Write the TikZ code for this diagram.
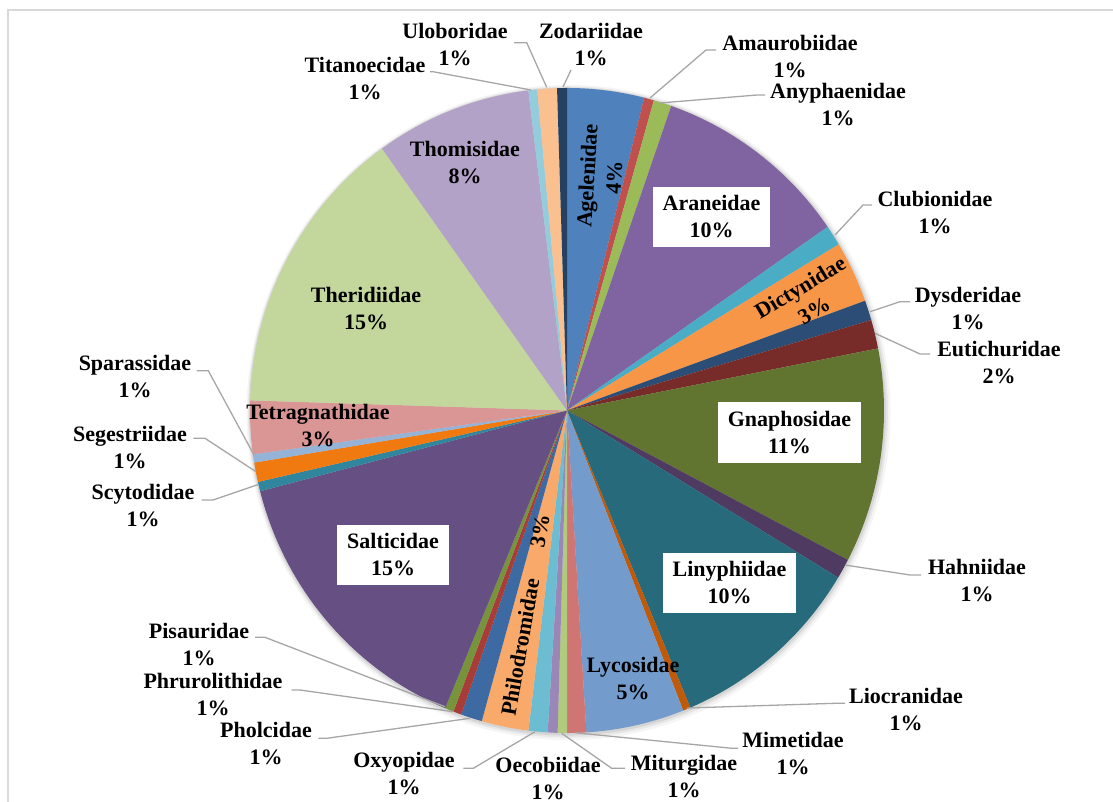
\documentclass[tikz,border=0pt]{standalone}
\usepackage{fontspec}
\setmainfont{Liberation Serif}
\definecolor{cAge}{HTML}{4F81BD}
\definecolor{cAma}{HTML}{C0504D}
\definecolor{cAny}{HTML}{9BBB59}
\definecolor{cAra}{HTML}{8064A2}
\definecolor{cClu}{HTML}{4BACC6}
\definecolor{cDic}{HTML}{F79646}
\definecolor{cDys}{HTML}{2C4D75}
\definecolor{cEut}{HTML}{772C2A}
\definecolor{cGna}{HTML}{627530}
\definecolor{cHah}{HTML}{4F3B62}
\definecolor{cLin}{HTML}{266A7B}
\definecolor{cLio}{HTML}{C05A0B}
\definecolor{cLyc}{HTML}{739CCD}
\definecolor{cMim}{HTML}{CF7573}
\definecolor{cMit}{HTML}{B0CB7C}
\definecolor{cOec}{HTML}{9B86B8}
\definecolor{cOxy}{HTML}{6DBDD2}
\definecolor{cPhi}{HTML}{F9AA6A}
\definecolor{cPho}{HTML}{3D6AA3}
\definecolor{cPhr}{HTML}{A83C38}
\definecolor{cPis}{HTML}{77933C}
\definecolor{cSal}{HTML}{654F83}
\definecolor{cScy}{HTML}{31859C}
\definecolor{cSeg}{HTML}{F07A10}
\definecolor{cSpa}{HTML}{95B3D7}
\definecolor{cTet}{HTML}{D99694}
\definecolor{cThe}{HTML}{C3D69B}
\definecolor{cTho}{HTML}{B3A2C7}
\definecolor{cTit}{HTML}{93CDDD}
\definecolor{cUlo}{HTML}{FAC090}
\definecolor{cZod}{HTML}{254061}
\definecolor{leadgray}{HTML}{A6A6A6}
\definecolor{framegray}{HTML}{D9D9D9}
\newcommand\pslice[3]{\fill[#3] (0,0) -- (#1-90:317) arc[start angle=#1-90, end angle=#2-90, radius=317] -- cycle;}
\begin{document}
\begin{tikzpicture}[x=1pt,y=-1pt,
  lbl/.style={font=\bfseries\fontsize{22}{27}\selectfont, align=center, inner sep=0pt},
  boxlbl/.style={lbl, fill=white, inner xsep=10pt, inner ysep=9pt},
  leader/.style={draw=leadgray, line width=1.3pt},
  frameline/.style={draw=framegray, line width=1.5pt}]
\useasboundingbox (0,0) rectangle (1113,802);
\draw[frameline] (8,802) -- (8,10) -- (1113,10);
% pie
\begin{scope}[shift={(567,410.5)}, yscale=1.0174]
  \fill[black, opacity=0.04] (1.5,2) circle[radius=322];
  \fill[black, opacity=0.06] (1,1.5) circle[radius=320];
  \fill[black, opacity=0.08] (0.5,1) circle[radius=318.5];
  \pslice{0}{14.1}{cAge}
  \pslice{14.1}{15.9}{cAma}
  \pslice{15.9}{19.2}{cAny}
  \pslice{19.2}{55.3}{cAra}
  \pslice{55.3}{59.0}{cClu}
  \pslice{59.0}{70.1}{cDic}
  \pslice{70.1}{73.7}{cDys}
  \pslice{73.7}{78.9}{cEut}
  \pslice{78.9}{117.6}{cGna}
  \pslice{117.6}{121.2}{cHah}
  \pslice{121.2}{157.1}{cLin}
  \pslice{157.1}{158.5}{cLio}
  \pslice{158.5}{176.5}{cLyc}
  \pslice{176.5}{180.0}{cMim}
  \pslice{180.0}{181.7}{cMit}
  \pslice{181.7}{183.5}{cOec}
  \pslice{183.5}{187.0}{cOxy}
  \pslice{187.0}{195.6}{cPhi}
  \pslice{195.6}{199.5}{cPho}
  \pslice{199.5}{201.0}{cPhr}
  \pslice{201.0}{202.6}{cPis}
  \pslice{202.6}{255.5}{cSal}
  \pslice{255.5}{257.2}{cScy}
  \pslice{257.2}{260.7}{cSeg}
  \pslice{260.7}{262.2}{cSpa}
  \pslice{262.2}{271.8}{cTet}
  \pslice{271.8}{324.3}{cThe}
  \pslice{324.3}{353.0}{cTho}
  \pslice{353.0}{354.6}{cTit}
  \pslice{354.6}{358.2}{cUlo}
  \pslice{358.2}{360}{cZod}
\end{scope}
% inside labels
\node[lbl, rotate=86.6] (l-age) at (600.5,176.5) {Agelenidae\\4\%};
\node[boxlbl] (l-ara) at (711.5,217) {Araneidae\\10\%};
\node[lbl, rotate=31] (l-dic) at (807,299) {Dictynidae\\3\%};
\node[boxlbl] (l-gna) at (789.5,432.5) {Gnaphosidae\\11\%};
\node[boxlbl] (l-lin) at (729.5,583) {Linyphiidae\\10\%};
\node[lbl] (l-lyc) at (633,679) {Lycosidae\\5\%};
\node[lbl, rotate=80] (l-phi) at (520,647) {Philodromidae};
\node[lbl, rotate=80] (l-phip) at (540,531) {3\%};
\node[boxlbl] (l-sal) at (393,555) {Salticidae\\15\%};
\node[lbl] (l-tet) at (318,425.5) {Tetragnathidae\\3\%};
\node[lbl] (l-the) at (366,308.5) {Theridiidae\\15\%};
\node[lbl] (l-tho) at (465,162.5) {Thomisidae\\8\%};
% outside labels
\node[lbl] (l-zod) at (591,44.5) {Zodariidae\\1\%};
\node[lbl] (l-ulo) at (455,45) {Uloboridae\\1\%};
\node[lbl] (l-tit) at (365,79) {Titanoecidae\\1\%};
\node[lbl] (l-ama) at (790,57) {Amaurobiidae\\1\%};
\node[lbl] (l-any) at (838,105) {Anyphaenidae\\1\%};
\node[lbl] (l-clu) at (935,212.5) {Clubionidae\\1\%};
\node[lbl] (l-dys) at (968,309) {Dysderidae\\1\%};
\node[lbl] (l-eut) at (999,362.5) {Eutichuridae\\2\%};
\node[lbl] (l-hah) at (977,580.5) {Hahniidae\\1\%};
\node[lbl] (l-lio) at (906,709.5) {Liocranidae\\1\%};
\node[lbl] (l-mim) at (793,754) {Mimetidae\\1\%};
\node[lbl] (l-mit) at (684,777) {Miturgidae\\1\%};
\node[lbl] (l-oec) at (548,778.5) {Oecobiidae\\1\%};
\node[lbl] (l-oxy) at (404,774) {Oxyopidae\\1\%};
\node[lbl] (l-pho) at (266,743.5) {Pholcidae\\1\%};
\node[lbl] (l-phr) at (213,695) {Phrurolithidae\\1\%};
\node[lbl] (l-pis) at (199,645) {Pisauridae\\1\%};
\node[lbl] (l-spa) at (135,376.5) {Sparassidae\\1\%};
\node[lbl] (l-seg) at (130,447.5) {Segestriidae\\1\%};
\node[lbl] (l-scy) at (143,505.5) {Scytodidae\\1\%};
% leader anchor points on the pie edge and elbows
\coordinate (s-zod) at (563,87);    \coordinate (e-zod) at (571,70);
\coordinate (s-ulo) at (546.7,87.3); \coordinate (k-ulo) at (526.7,42.7); \coordinate (e-ulo) at (514,42.7);
\coordinate (s-tit) at (531,90);    \coordinate (k-tit) at (433,71.7); \coordinate (e-tit) at (430,71.7);
\coordinate (s-ama) at (650,98);    \coordinate (k-ama) at (706,50);   \coordinate (e-ama) at (716,50);
\coordinate (s-any) at (660,103);   \coordinate (k-any) at (757,95);   \coordinate (e-any) at (765,95);
\coordinate (s-clu) at (835,235);   \coordinate (k-clu) at (863,205);  \coordinate (e-clu) at (872,205);
\coordinate (s-dys) at (870,311.7); \coordinate (k-dys) at (900,301.7); \coordinate (e-dys) at (910,301.7);
\coordinate (s-eut) at (875,333.3); \coordinate (k-eut) at (920,354);  \coordinate (e-eut) at (930,354);
\coordinate (s-hah) at (845,565);   \coordinate (k-hah) at (910,575);  \coordinate (e-hah) at (921,575);
\coordinate (s-lio) at (687,708);   \coordinate (k-lio) at (835,703.3); \coordinate (e-lio) at (845,703.3);
\coordinate (s-mim) at (575,732.7); \coordinate (k-mim) at (732,748.3); \coordinate (e-mim) at (738,748.3);
\coordinate (s-mit) at (561.7,733.3); \coordinate (k-mit) at (611.7,768.3); \coordinate (e-mit) at (625,768.3);
\coordinate (s-oxy) at (535,731.7); \coordinate (k-oxy) at (473.3,768.3); \coordinate (e-oxy) at (463.3,768.3);
\coordinate (s-pho) at (470,718.3); \coordinate (k-pho) at (326.7,738.3); \coordinate (e-pho) at (318.3,738.3);
\coordinate (s-phr) at (453.3,711.7); \coordinate (k-phr) at (300,690); \coordinate (e-phr) at (291.7,690);
\coordinate (s-pis) at (445,706.7); \coordinate (k-pis) at (265,637.3); \coordinate (e-pis) at (255,637.3);
\coordinate (s-spa) at (254,455);   \coordinate (k-spa) at (208.3,370.7); \coordinate (e-spa) at (196.7,370.7);
\coordinate (s-seg) at (256,471.7); \coordinate (k-seg) at (205,438.3); \coordinate (e-seg) at (193.3,438.3);
\coordinate (s-scy) at (258.3,484.5); \coordinate (k-scy) at (213,500); \coordinate (e-scy) at (201.7,500);
% leaders
\draw[leader] (s-zod) -- (e-zod);
\draw[leader] (s-ulo) -- (k-ulo) -- (e-ulo);
\draw[leader] (s-tit) -- (k-tit) -- (e-tit);
\draw[leader] (s-ama) -- (k-ama) -- (e-ama);
\draw[leader] (s-any) -- (k-any) -- (e-any);
\draw[leader] (s-clu) -- (k-clu) -- (e-clu);
\draw[leader] (s-dys) -- (k-dys) -- (e-dys);
\draw[leader] (s-eut) -- (k-eut) -- (e-eut);
\draw[leader] (s-hah) -- (k-hah) -- (e-hah);
\draw[leader] (s-lio) -- (k-lio) -- (e-lio);
\draw[leader] (s-mim) -- (k-mim) -- (e-mim);
\draw[leader] (s-mit) -- (k-mit) -- (e-mit);
\draw[leader] (s-oxy) -- (k-oxy) -- (e-oxy);
\draw[leader] (s-pho) -- (k-pho) -- (e-pho);
\draw[leader] (s-phr) -- (k-phr) -- (e-phr);
\draw[leader] (s-pis) -- (k-pis) -- (e-pis);
\draw[leader] (s-spa) -- (k-spa) -- (e-spa);
\draw[leader] (s-seg) -- (k-seg) -- (e-seg);
\draw[leader] (s-scy) -- (k-scy) -- (e-scy);
\end{tikzpicture}
\end{document}
